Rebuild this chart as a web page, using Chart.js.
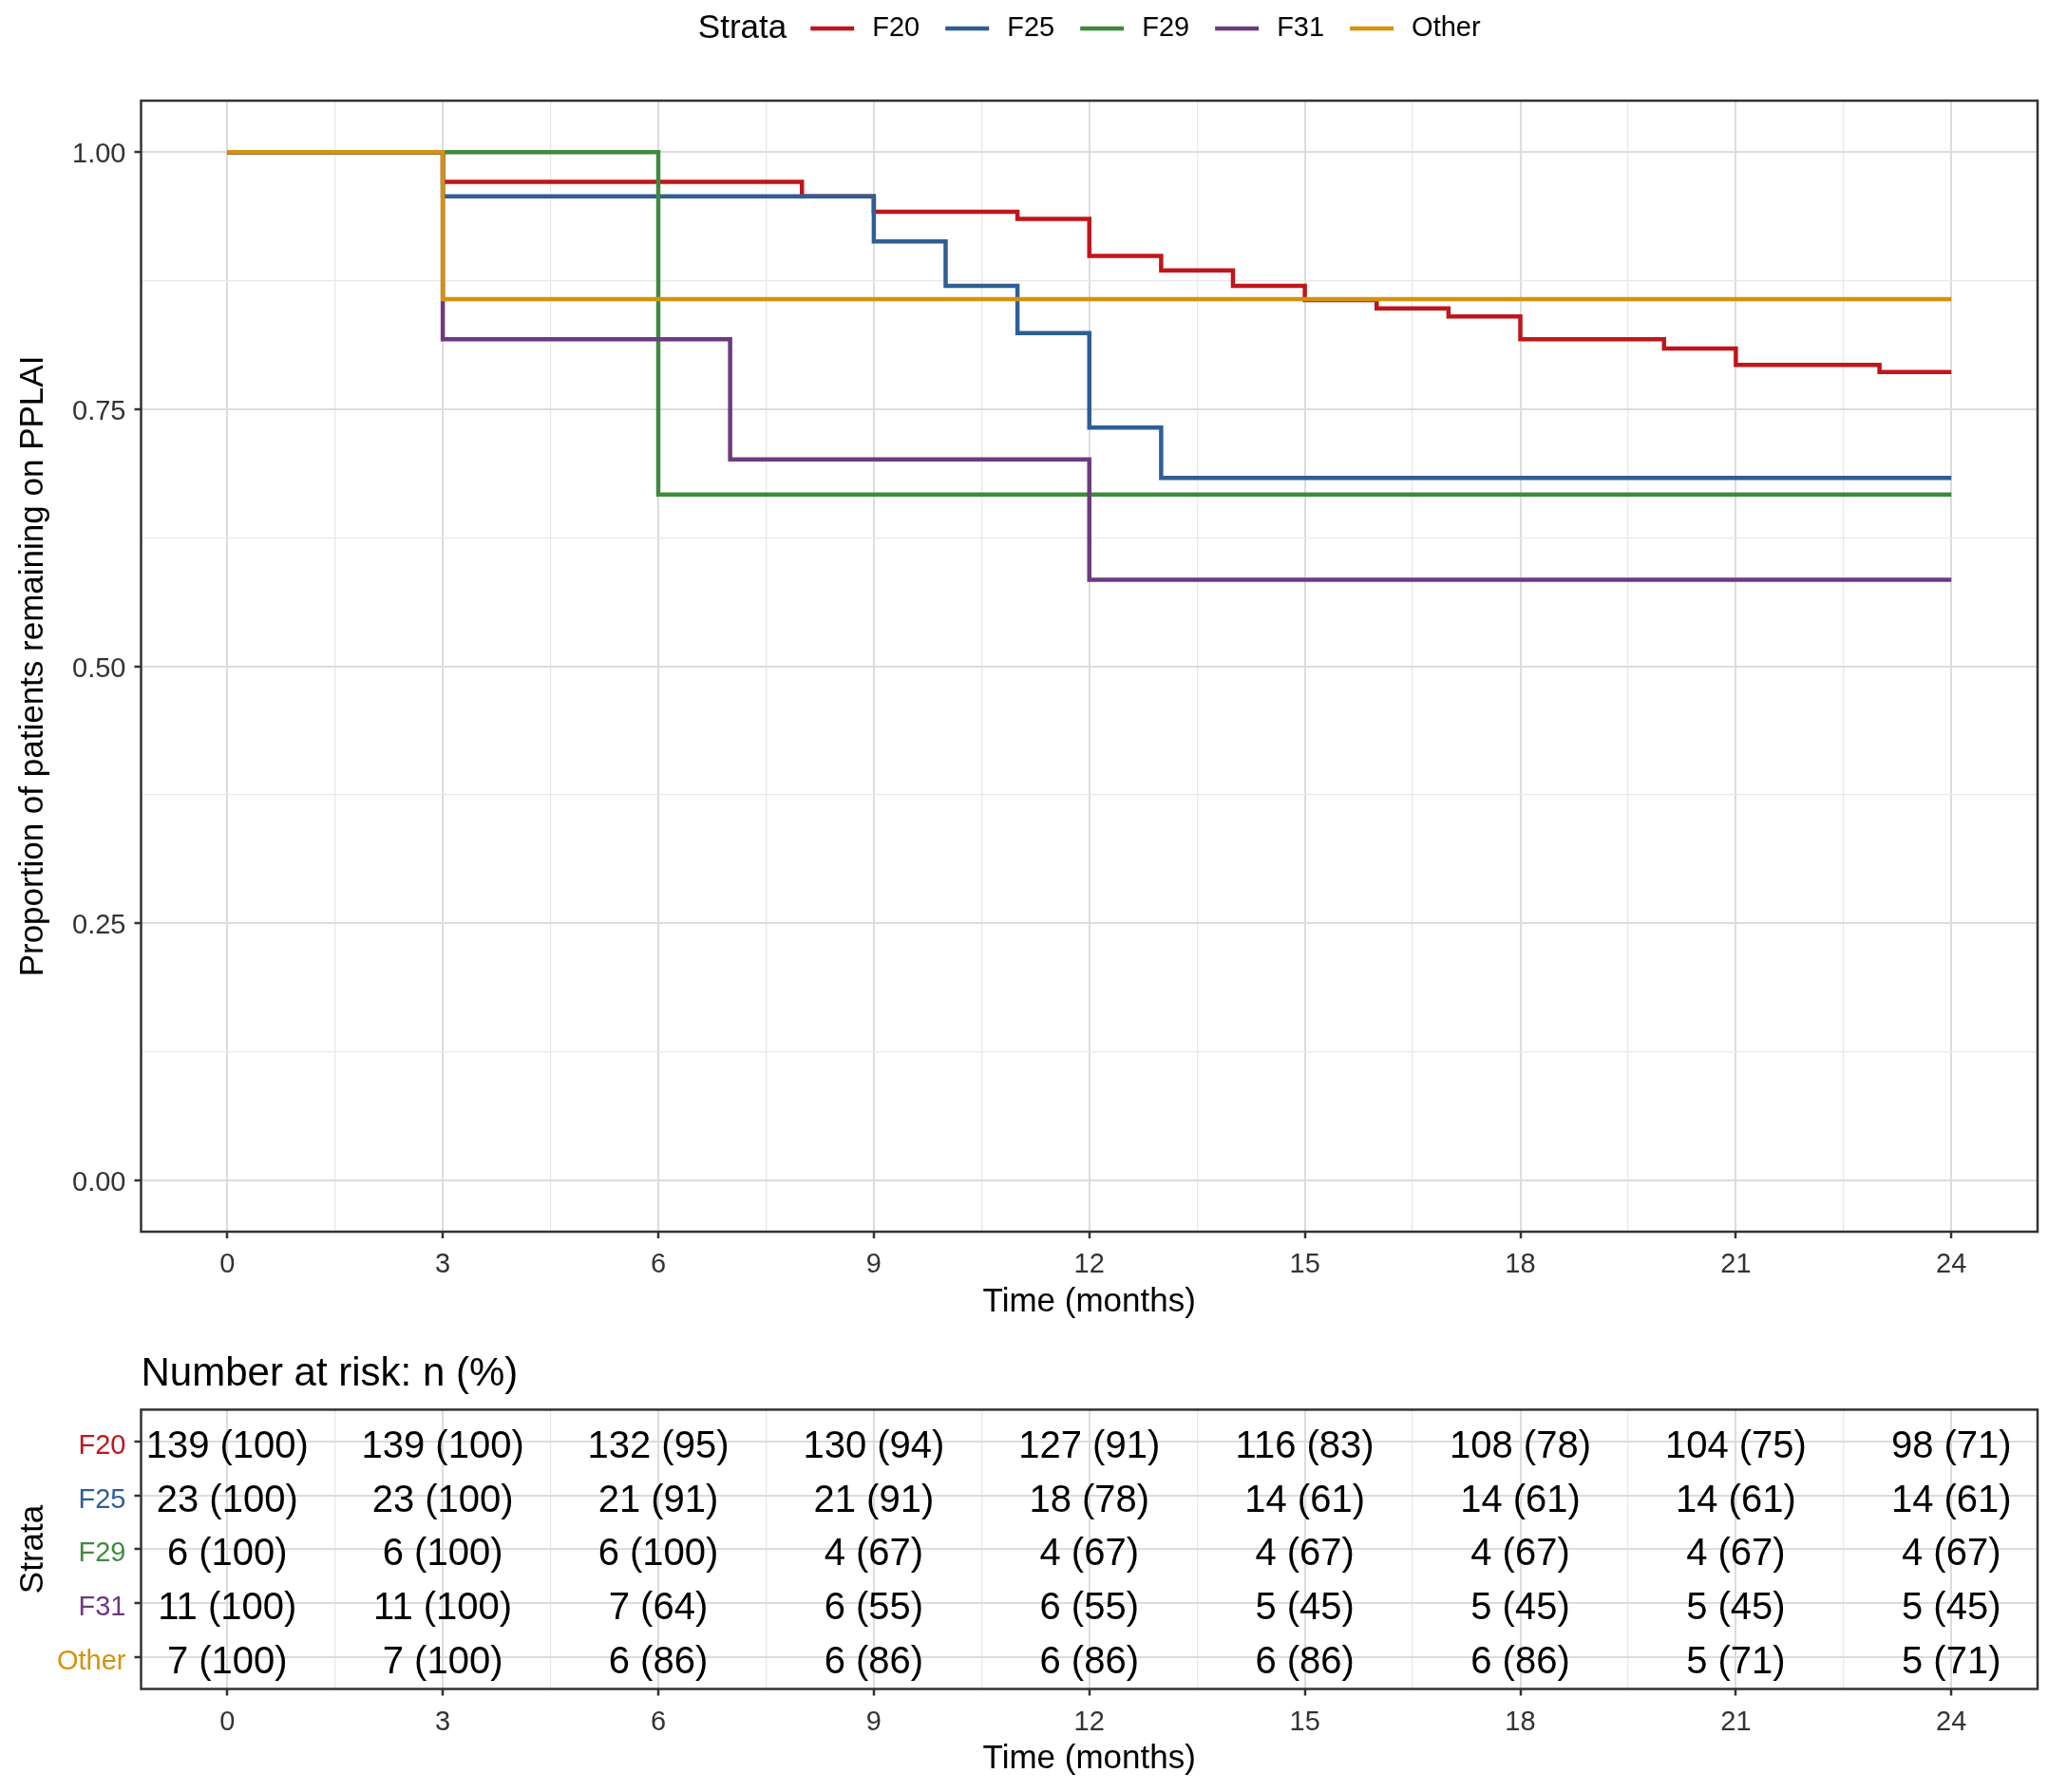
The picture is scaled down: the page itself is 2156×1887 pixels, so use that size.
<!DOCTYPE html>
<html>
<head>
<meta charset="utf-8">
<script src="https://cdn.jsdelivr.net/npm/chart.js@4/dist/chart.umd.min.js"></script>
<style>
  html, body { margin: 0; padding: 0; background: #ffffff; }
  #wrap { position: relative; width: 2156px; height: 1887px; background: #ffffff; }
  #km { position: absolute; left: 0; top: 0; }
  #risk { position: absolute; left: 0; top: 1400px; }
</style>
</head>
<body>
<div id="wrap">
  <canvas id="km" width="2156" height="1400"></canvas>
  <canvas id="risk" width="2156" height="487"></canvas>
</div>
<script>
// ---------------- data ----------------
const strata = ['F20', 'F25', 'F29', 'F31', 'Other'];
const strataColors = ['#C0161B', '#2E5F94', '#3F8A3F', '#6D3A80', '#D4920F'];

const f20Time = [0, 3, 8, 9, 11, 12, 13, 14, 15, 16, 17, 18, 20, 21, 23, 24];
const f20Surv = [1, 0.971, 0.957, 0.942, 0.935, 0.899, 0.885, 0.870, 0.856, 0.848, 0.840, 0.818, 0.809, 0.793, 0.786, 0.786];
const f25Time = [0, 3, 9, 10, 11, 12, 13, 24];
const f25Surv = [1, 0.957, 0.913, 0.870, 0.824, 0.732, 0.683, 0.683];
const f29Time = [0, 6, 24];
const f29Surv = [1, 0.667, 0.667];
const f31Time = [0, 3, 7, 12, 24];
const f31Surv = [1, 0.818, 0.701, 0.584, 0.584];
const otherTime = [0, 3, 24];
const otherSurv = [1, 0.857, 0.857];

const riskTimes = [0, 3, 6, 9, 12, 15, 18, 21, 24];
const riskF20N = [139, 139, 132, 130, 127, 116, 108, 104, 98];
const riskF20Pct = [100, 100, 95, 94, 91, 83, 78, 75, 71];
const riskF25N = [23, 23, 21, 21, 18, 14, 14, 14, 14];
const riskF25Pct = [100, 100, 91, 91, 78, 61, 61, 61, 61];
const riskF29N = [6, 6, 6, 4, 4, 4, 4, 4, 4];
const riskF29Pct = [100, 100, 100, 67, 67, 67, 67, 67, 67];
const riskF31N = [11, 11, 7, 6, 6, 5, 5, 5, 5];
const riskF31Pct = [100, 100, 64, 55, 55, 45, 45, 45, 45];
const riskOtherN = [7, 7, 6, 6, 6, 6, 6, 5, 5];
const riskOtherPct = [100, 100, 86, 86, 86, 86, 86, 71, 71];

const xTickValues = [0, 3, 6, 9, 12, 15, 18, 21, 24];
const xTickLabels = ['0', '3', '6', '9', '12', '15', '18', '21', '24'];
const yTickValues = [0, 0.25, 0.5, 0.75, 1];
const yTickLabels = ['0.00', '0.25', '0.50', '0.75', '1.00'];

const xTitle = 'Time (months)';
const yTitle = 'Proportion of patients remaining on PPLAI';
const legendTitle = 'Strata';
const riskTitle = 'Number at risk: n (%)';

// ---------------- helpers ----------------
const FONT = '"Liberation Sans", Arial, "DejaVu Sans", sans-serif';
const GRID_MAJOR = '#DCDCDC';
const GRID_MINOR = '#E8E8E8';
const FRAME = '#333333';
const TEXT = '#333333';

function midpoints(vals) {
  const out = [];
  for (let i = 0; i < vals.length - 1; i++) out.push((vals[i] + vals[i + 1]) / 2);
  return out;
}
const xGridValues = xTickValues.concat(midpoints(xTickValues)).sort((a, b) => a - b);
const yGridValues = yTickValues.concat(midpoints(yTickValues)).sort((a, b) => a - b);

function isMajor(list, v) { return list.some(m => Math.abs(m - v) < 1e-9); }
function labelFor(list, labels, v) {
  const i = list.findIndex(m => Math.abs(m - v) < 1e-9);
  return i >= 0 ? labels[i] : '';
}

const survTimes = [f20Time, f25Time, f29Time, f31Time, otherTime];
const survVals = [f20Surv, f25Surv, f29Surv, f31Surv, otherSurv];
const riskN = [riskF20N, riskF25N, riskF29N, riskF31N, riskOtherN];
const riskPct = [riskF20Pct, riskF25Pct, riskF29Pct, riskF31Pct, riskOtherPct];

const framePlugin = {
  id: 'frame',
  afterDatasetsDraw(chart) {
    const a = chart.chartArea;
    const ctx = chart.ctx;
    ctx.save();
    ctx.strokeStyle = FRAME;
    ctx.lineWidth = 2.5;
    ctx.strokeRect(a.left, a.top, a.right - a.left, a.bottom - a.top);
    ctx.restore();
  }
};

const legendPlugin = {
  id: 'stratalegend',
  afterDraw(chart) {
    const ctx = chart.ctx;
    const a = chart.chartArea;
    const y = 30;
    const keyLen = 46, gapTitle = 25, gapKey = 19, gapItem = 27;
    ctx.save();
    ctx.textBaseline = 'middle';
    ctx.textAlign = 'left';
    ctx.font = '35px ' + FONT;
    const tw = ctx.measureText(legendTitle).width;
    ctx.font = '29px ' + FONT;
    const ds = chart.data.datasets;
    const widths = ds.map(d => ctx.measureText(d.label).width);
    let total = tw + gapTitle;
    widths.forEach((w, i) => { total += keyLen + gapKey + w + (i < widths.length - 1 ? gapItem : 0); });
    let x = (a.left + a.right) / 2 - total / 2;
    ctx.fillStyle = '#000';
    ctx.font = '35px ' + FONT;
    ctx.fillText(legendTitle, x, y);
    x += tw + gapTitle;
    ctx.font = '29px ' + FONT;
    ds.forEach((d, i) => {
      ctx.strokeStyle = d.borderColor;
      ctx.lineWidth = 4.5;
      ctx.beginPath();
      ctx.moveTo(x, y);
      ctx.lineTo(x + keyLen, y);
      ctx.stroke();
      x += keyLen + gapKey;
      ctx.fillStyle = '#000';
      ctx.fillText(d.label, x, y);
      x += widths[i] + gapItem;
    });
    ctx.restore();
  }
};

const tableTextPlugin = {
  id: 'tabletext',
  afterDatasetsDraw(chart) {
    const ctx = chart.ctx;
    ctx.save();
    ctx.font = '40px ' + FONT;
    ctx.fillStyle = '#000';
    ctx.textAlign = 'center';
    ctx.textBaseline = 'middle';
    chart.data.datasets.forEach((d, di) => {
      const meta = chart.getDatasetMeta(di);
      meta.data.forEach((el, i) => {
        ctx.fillText(d.texts[i], el.x, el.y + 6);
      });
    });
    ctx.restore();
  }
};

function xScaleOptions() {
  return {
    type: 'linear',
    min: -1.2,
    max: 25.2,
    afterBuildTicks: (axis) => { axis.ticks = xGridValues.map(v => ({ value: v })); },
    afterFit: (scale) => { scale.height = 95; },
    border: { display: false },
    grid: {
      color: (c) => (c.tick && isMajor(xTickValues, c.tick.value)) ? GRID_MAJOR : GRID_MINOR,
      lineWidth: (c) => (c.tick && isMajor(xTickValues, c.tick.value)) ? 2 : 1.3,
      tickColor: (c) => (c.tick && isMajor(xTickValues, c.tick.value)) ? FRAME : 'rgba(0,0,0,0)',
      tickWidth: 2.5,
      tickLength: 7,
      drawTicks: true
    },
    ticks: {
      autoSkip: false,
      maxRotation: 0,
      padding: 11,
      color: TEXT,
      font: { size: 29, family: FONT },
      callback: (v) => labelFor(xTickValues, xTickLabels, v)
    },
    title: {
      display: true,
      text: xTitle,
      color: '#000',
      font: { size: 35, family: FONT },
      padding: { top: 0, bottom: 0 }
    }
  };
}

// ---------------- KM chart ----------------
const kmDatasets = strata.map((s, i) => ({
  label: s,
  data: survTimes[i].map((t, j) => ({ x: t, y: survVals[i][j] })),
  borderColor: strataColors[i],
  backgroundColor: strataColors[i],
  borderWidth: 4.5,
  stepped: 'before',
  fill: false,
  pointRadius: 0,
  order: strata.length - i
}));

new Chart(document.getElementById('km'), {
  type: 'line',
  data: { datasets: kmDatasets },
  options: {
    responsive: false,
    animation: false,
    layout: { padding: { top: 106, right: 11, bottom: 8, left: 0 } },
    plugins: { legend: { display: false }, tooltip: { enabled: false }, title: { display: false } },
    scales: {
      x: xScaleOptions(),
      y: {
        type: 'linear',
        min: -0.05,
        max: 1.05,
        afterBuildTicks: (axis) => { axis.ticks = yGridValues.map(v => ({ value: v })); },
        afterFit: (scale) => { scale.width = 148.5; },
        border: { display: false },
        grid: {
          color: (c) => (c.tick && isMajor(yTickValues, c.tick.value)) ? GRID_MAJOR : GRID_MINOR,
          lineWidth: (c) => (c.tick && isMajor(yTickValues, c.tick.value)) ? 2 : 1.3,
          tickColor: (c) => (c.tick && isMajor(yTickValues, c.tick.value)) ? FRAME : 'rgba(0,0,0,0)',
          tickWidth: 2.5,
          tickLength: 7,
          drawTicks: true
        },
        ticks: {
          autoSkip: false,
          padding: 9,
          labelOffset: 3,
          color: TEXT,
          font: { size: 29, family: FONT },
          callback: (v) => labelFor(yTickValues, yTickLabels, v)
        },
        title: {
          display: true,
          text: yTitle,
          color: '#000',
          font: { size: 35, family: FONT },
          padding: { top: 14, bottom: 0 }
        }
      }
    }
  },
  plugins: [framePlugin, legendPlugin]
});

// ---------------- risk table chart ----------------
const riskRows = [1, 2, 3, 4, 5];
const riskDatasets = strata.map((s, i) => ({
  label: s,
  data: riskTimes.map((t) => ({ x: t, y: riskRows[i] })),
  texts: riskTimes.map((t, j) => riskN[i][j] + ' (' + riskPct[i][j] + ')'),
  showLine: false,
  pointRadius: 0,
  borderColor: 'rgba(0,0,0,0)',
  backgroundColor: 'rgba(0,0,0,0)'
}));

new Chart(document.getElementById('risk'), {
  type: 'scatter',
  data: { datasets: riskDatasets },
  options: {
    responsive: false,
    animation: false,
    layout: { padding: { top: 0, right: 11, bottom: 13.5, left: 0 } },
    plugins: {
      legend: { display: false },
      tooltip: { enabled: false },
      title: {
        display: true,
        text: riskTitle,
        align: 'start',
        fullSize: false,
        color: '#000',
        font: { size: 42, family: FONT, weight: 'normal' },
        padding: { top: 22, bottom: 12 }
      }
    },
    scales: {
      x: xScaleOptions(),
      y: {
        type: 'linear',
        min: 0.4,
        max: 5.6,
        reverse: true,
        afterBuildTicks: (axis) => { axis.ticks = riskRows.map(v => ({ value: v })); },
        afterFit: (scale) => { scale.width = 148.5; },
        border: { display: false },
        grid: {
          color: GRID_MAJOR,
          lineWidth: 2,
          tickColor: FRAME,
          tickWidth: 2.5,
          tickLength: 7,
          drawTicks: true
        },
        ticks: {
          autoSkip: false,
          padding: 9,
          labelOffset: 5,
          font: { size: 29, family: FONT },
          color: (c) => strataColors[riskRows.indexOf(c.tick ? c.tick.value : 1)] || TEXT,
          callback: (v) => strata[riskRows.indexOf(v)] || ''
        },
        title: {
          display: true,
          text: legendTitle,
          color: '#000',
          font: { size: 35, family: FONT },
          padding: { top: 14, bottom: 0 }
        }
      }
    }
  },
  plugins: [framePlugin, tableTextPlugin]
});
</script>
</body>
</html>
